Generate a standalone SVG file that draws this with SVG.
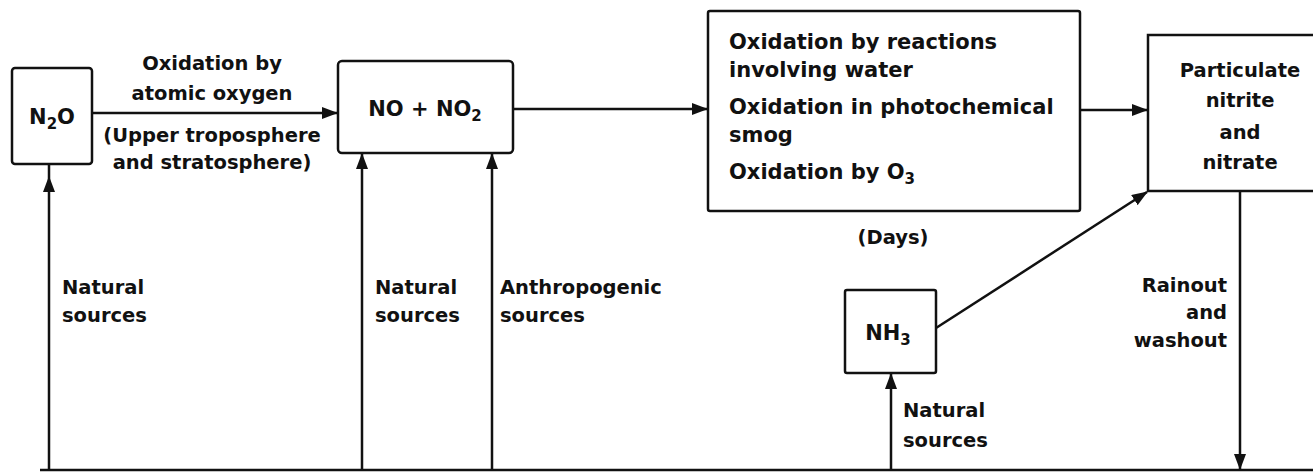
<svg xmlns="http://www.w3.org/2000/svg" width="1313" height="475" viewBox="0 0 1313 475">
<style>
text{font-family:"DejaVu Sans","Liberation Sans",sans-serif;font-weight:bold;font-size:19.5px;fill:#111}
.big{font-size:21px}
.box{fill:#fff;stroke:#111;stroke-width:2.5}
.ln{fill:none;stroke:#111;stroke-width:2.5}
.mid{text-anchor:middle}
.end{text-anchor:end}
</style>
<defs>
<marker id="ah" markerUnits="userSpaceOnUse" markerWidth="16" markerHeight="12" refX="15" refY="6" orient="auto">
<path d="M0,0 L16,6 L0,12 Z" fill="#111"/>
</marker>
</defs>
<rect width="1313" height="475" fill="#fff"/>
<g id="connectors">
<line class="ln" x1="92" y1="113" x2="337" y2="113" marker-end="url(#ah)"/>
<line class="ln" x1="513" y1="109" x2="707" y2="109" marker-end="url(#ah)"/>
<line class="ln" x1="1080" y1="110" x2="1147" y2="110" marker-end="url(#ah)"/>
<line class="ln" x1="40" y1="470" x2="1313" y2="470"/>
<line class="ln" x1="49" y1="470" x2="49" y2="164"/>
<path d="M49,176 L43,192 L55,192 Z" fill="#111"/>
<line class="ln" x1="362" y1="470" x2="362" y2="154" marker-end="url(#ah)"/>
<line class="ln" x1="492" y1="470" x2="492" y2="154" marker-end="url(#ah)"/>
<line class="ln" x1="891" y1="470" x2="891" y2="374" marker-end="url(#ah)"/>
<line class="ln" x1="1240" y1="191" x2="1240" y2="469" marker-end="url(#ah)"/>
<line class="ln" x1="936" y1="328" x2="1147" y2="192" marker-end="url(#ah)"/>
<text x="212" y="70" class="mid">Oxidation by</text>
<text x="212" y="100" class="mid">atomic oxygen</text>
<text x="212" y="142" class="mid">(Upper troposphere</text>
<text x="212" y="169" class="mid">and stratosphere)</text>
<text x="893" y="244" class="mid">(Days)</text>
<text x="62" y="294">Natural</text>
<text x="62" y="322">sources</text>
<text x="375" y="294">Natural</text>
<text x="375" y="322">sources</text>
<text x="500" y="294">Anthropogenic</text>
<text x="500" y="322">sources</text>
<text x="903" y="417">Natural</text>
<text x="903" y="447">sources</text>
<text x="1227" y="292" class="end">Rainout</text>
<text x="1227" y="319" class="end">and</text>
<text x="1227" y="347" class="end">washout</text>
</g>
<g id="n2o">
<rect class="box" x="12" y="68" width="80" height="96" rx="3"/>
<text x="52" y="124" class="mid big">N<tspan dy="5" font-size="15">2</tspan><tspan dy="-5">O</tspan></text>
</g>
<g id="nox">
<rect class="box" x="338" y="61" width="175" height="92" rx="4"/>
<text x="425" y="116" class="mid big">NO + NO<tspan dy="5" font-size="15">2</tspan></text>
</g>
<g id="oxidation">
<rect class="box" x="708" y="11" width="372" height="200" rx="2"/>
<text x="729" y="49" class="big">Oxidation by reactions</text>
<text x="729" y="77" class="big">involving water</text>
<text x="729" y="114" class="big">Oxidation in photochemical</text>
<text x="729" y="142" class="big">smog</text>
<text x="729" y="179" class="big">Oxidation by O<tspan dy="5" font-size="15">3</tspan></text>
</g>
<g id="particulate">
<rect class="box" x="1148" y="35" width="180" height="156"/>
<text x="1240" y="77" class="mid">Particulate</text>
<text x="1240" y="107" class="mid">nitrite</text>
<text x="1240" y="139" class="mid">and</text>
<text x="1240" y="169" class="mid">nitrate</text>
</g>
<g id="nh3">
<rect class="box" x="845" y="290" width="91" height="83" rx="2"/>
<text x="888" y="340" class="mid big">NH<tspan dy="5" font-size="15">3</tspan></text>
</g>
</svg>
